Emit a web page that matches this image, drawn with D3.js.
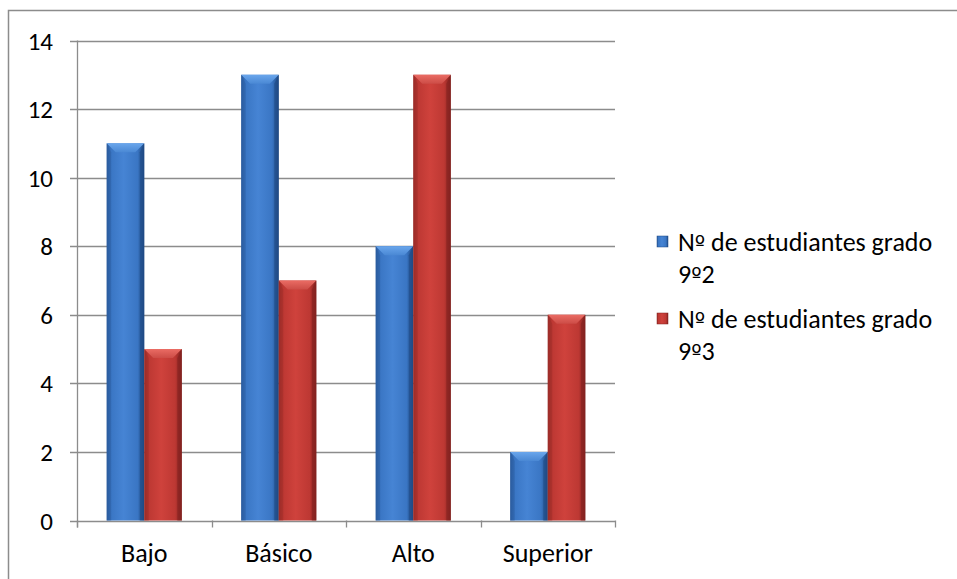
<!DOCTYPE html>
<html><head><meta charset="utf-8">
<script src="https://cdn.jsdelivr.net/npm/d3@7"></script>
<style>
html,body{margin:0;padding:0;background:#fff;}
svg{display:block;}
text{font-family:Carlito,Calibri,Lato,sans-serif;fill:#000;}
.ord{font-family:"DejaVu Sans",sans-serif;font-size:22px;}
</style></head>
<body>
<svg id="chart" width="957" height="579"></svg>
<script>
const categories = ["Bajo", "Básico", "Alto", "Superior"];
const seriesNames = ["Nº de estudiantes grado 9º2", "Nº de estudiantes grado 9º3"];
const legendLines = [["Nº de estudiantes grado", "9º2"], ["Nº de estudiantes grado", "9º3"]];
const values92 = [11, 13, 8, 2];
const values93 = [5, 7, 13, 6];
const yTicks = [0, 2, 4, 6, 8, 10, 12, 14];

const series = [values92, values93];
const palettes = [
  {edgeL:"#2b5c9e", mid:"#4684d4", main:"#3a76c4", edgeR:"#1f4a84", top:"#6aa6ec", topEdge:"#4a88d4"},
  {edgeL:"#9c2c29", mid:"#cf423c", main:"#bd3833", edgeR:"#82221f", top:"#ea6c64", topEdge:"#cc4c46"}
];

const svg = d3.select("#chart");
const defs = svg.append("defs");
palettes.forEach((p,i)=>{
  const g = defs.append("linearGradient").attr("id","bar"+i).attr("x1","0").attr("x2","1").attr("y1","0").attr("y2","0");
  g.append("stop").attr("offset","0").attr("stop-color",p.edgeL);
  g.append("stop").attr("offset","0.12").attr("stop-color",p.main);
  g.append("stop").attr("offset","0.45").attr("stop-color",p.mid);
  g.append("stop").attr("offset","0.82").attr("stop-color",p.main);
  g.append("stop").attr("offset","1").attr("stop-color",p.edgeR);
  const t = defs.append("linearGradient").attr("id","top"+i).attr("x1","0").attr("x2","0").attr("y1","0").attr("y2","1");
  t.append("stop").attr("offset","0").attr("stop-color",p.top);
  t.append("stop").attr("offset","1").attr("stop-color",p.topEdge);
});

// outer border
svg.append("rect").attr("x",8.5).attr("y",10.5).attr("width",960).attr("height",600)
  .attr("fill","none").attr("stroke","#8c8c8c").attr("stroke-width",1.5);

const plotL = 77, plotR = 615, plotT = 40.5, plotB = 520.5;
const y = d3.scaleLinear().domain([0,14]).range([plotB, plotT]);
const x0 = d3.scaleBand().domain(categories).range([plotL, plotR]).paddingInner(0).paddingOuter(0);
const x1 = d3.scaleBand().domain([0,1]).range([0, x0.bandwidth()]).paddingInner(0).paddingOuter(0.79);

// gridlines
svg.append("g").selectAll("line").data(yTicks).join("line")
  .attr("x1", plotL-7).attr("x2", plotR)
  .attr("y1", d=>Math.round(y(d))+0.5).attr("y2", d=>Math.round(y(d))+0.5)
  .attr("stroke","#8c8c8c").attr("stroke-width",1.3);

// y labels
svg.append("g").selectAll("text").data(yTicks).join("text")
  .attr("x", 53).attr("y", d=>y(d)).attr("dy","0.36em")
  .attr("text-anchor","end").attr("font-size",25).text(d=>d);

// y axis line
svg.append("line").attr("x1",plotL+0.5).attr("x2",plotL+0.5).attr("y1",plotT).attr("y2",plotB+7)
  .attr("stroke","#8c8c8c").attr("stroke-width",1.3);
// x ticks
const xTickPos = categories.map(c=>x0(c)).concat([plotR]);
svg.append("g").selectAll("line").data(xTickPos).join("line")
  .attr("x1",d=>Math.round(d)+0.5).attr("x2",d=>Math.round(d)+0.5)
  .attr("y1",plotB).attr("y2",plotB+7)
  .attr("stroke","#8c8c8c").attr("stroke-width",1.3);

// bars
const bars = svg.append("g");
series.forEach((vals, si)=>{
  const p = palettes[si];
  vals.forEach((v, ci)=>{
    const bx = x0(categories[ci]) + x1(si);
    const bw = x1.bandwidth();
    const by = y(v);
    const bh = plotB - by;
    const g = bars.append("g");
    g.append("rect").attr("x",bx).attr("y",by).attr("width",bw).attr("height",bh)
      .attr("fill",`url(#bar${si})`);
    const bev = 9;
    g.append("path").attr("d",`M${bx},${by}L${bx+bw},${by}L${bx+bw-bev},${by+bev}L${bx+bev},${by+bev}Z`)
      .attr("fill",`url(#top${si})`);
    g.append("path").attr("d",`M${bx},${by}L${bx+bev*0.5},${by+bev}L${bx+bev*0.5},${plotB}L${bx},${plotB}Z`)
      .attr("fill",p.edgeL).attr("opacity",0.45);
    g.append("path").attr("d",`M${bx+bw},${by}L${bx+bw-bev*0.5},${by+bev}L${bx+bw-bev*0.5},${plotB}L${bx+bw},${plotB}Z`)
      .attr("fill",p.edgeR).attr("opacity",0.6);
  });
});

// x labels
svg.append("g").selectAll("text").data(categories).join("text")
  .attr("x", d=>x0(d)+x0.bandwidth()/2).attr("y", 562)
  .attr("text-anchor","middle").attr("font-size",26).text(d=>d);

// legend
const leg = svg.append("g");
const legY = [251, 328];
function addLine(textSel, str, x, dy){
  const parts = str.split(/(º)/).filter(s=>s.length);
  parts.forEach((part, j)=>{
    const ts = textSel.append("tspan").text(part);
    if (j===0) ts.attr("x", x).attr("dy", dy);
    if (part === "º") ts.attr("class","ord");
  });
}
seriesNames.forEach((name, i)=>{
  const p = palettes[i];
  leg.append("rect").attr("x",657).attr("y",legY[i]-15).attr("width",11).attr("height",11)
    .attr("fill",`url(#bar${i})`).attr("stroke",p.edgeR).attr("stroke-width",0.5);
  const t = leg.append("text").attr("x",678).attr("y",legY[i]).attr("font-size",26);
  legendLines[i].forEach((ln, k)=> addLine(t, ln, 678, k===0?0:32));
});
</script>
</body></html>
